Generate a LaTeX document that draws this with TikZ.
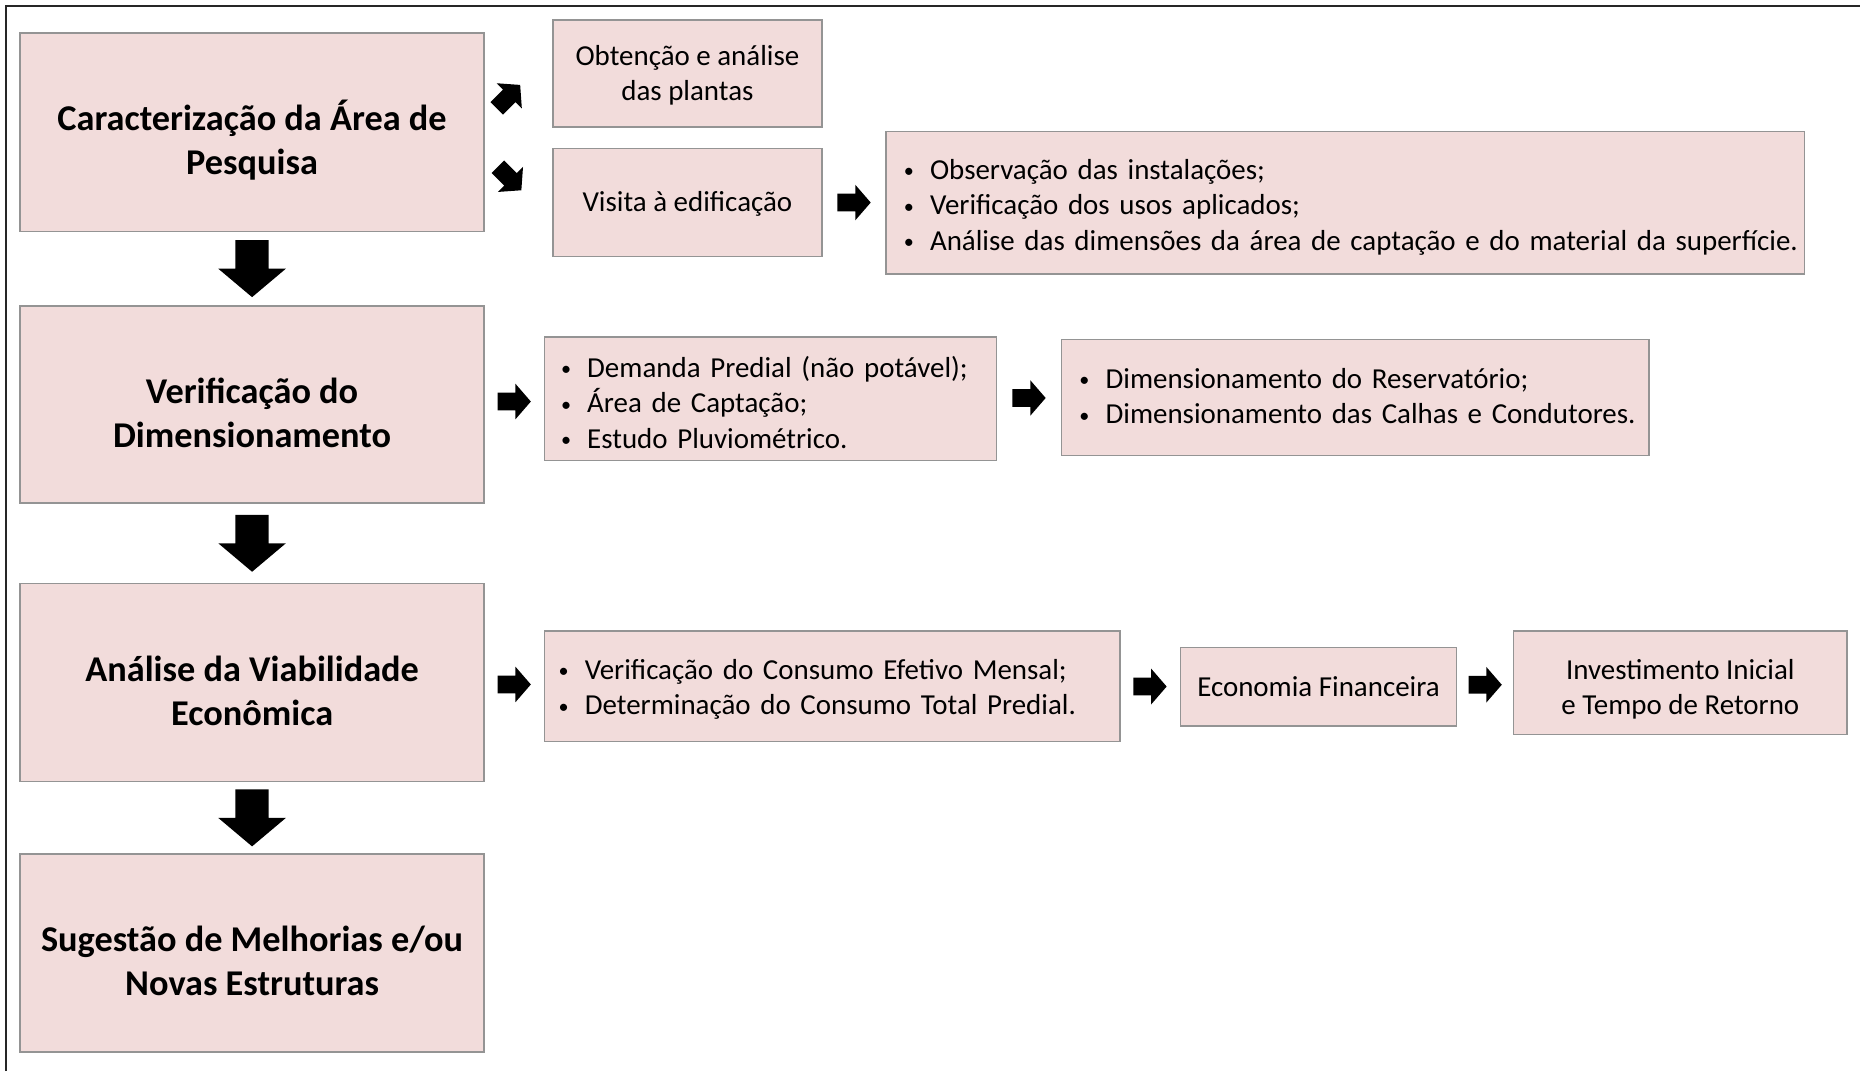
\documentclass[tikz,border=0pt]{standalone}
\usepackage{fontspec}
\setmainfont{Carlito}
\usetikzlibrary{calc}
\definecolor{boxfill}{HTML}{F2DCDB}
\definecolor{boxline}{HTML}{949494}
\newcommand\bitem[1]{\makebox[11pt][l]{\raisebox{0.6pt}{\fontsize{8.5}{8.5}\selectfont\textbullet}}#1}
\newcommand\lift[2]{\raisebox{-#1}[\height][\depth]{#2}}
\newcommand\ctab[1]{\begin{tabular}{@{}c@{}}#1\end{tabular}}
\newcommand\ltab[1]{\begin{tabular}{@{}l@{}}#1\end{tabular}}
\begin{document}
\begin{tikzpicture}[x=0.5pt,y=-0.5pt,
  box/.style={draw=boxline, fill=boxfill, line width=0.6pt, inner sep=0pt, align=center},
  big/.style={font=\fontsize{15.3}{18.5}\selectfont\bfseries},
  small/.style={font=\fontsize{12.2}{15}\selectfont},
  listbox/.style={box, small, align=left},
  rarr/.pic={\fill (-14,-7.5) -- (1,-7.5) -- (1,-15) -- (14,0) -- (1,15) -- (1,7.5) -- (-14,7.5) -- cycle;},
  darr/.pic={\fill (-14,-24) -- (14,-24) -- (14,0) -- (28.5,0) -- (0,24) -- (-28.5,0) -- (-14,0) -- cycle;}
]
\useasboundingbox (0,0) rectangle (1568,903);
% frame
\draw[line width=0.9pt, black!85] (5,903) -- (5,5) -- (1568,5);

% main column
\node[box, big, minimum width=195.5pt, minimum height=83.5pt] (A1) at (212.5,111.5) {\lift{5pt}{\ctab{Caracterização da Área de\\Pesquisa}}};
\node[box, big, minimum width=195.5pt, minimum height=83pt] (A2) at (212.5,341) {\lift{5pt}{\ctab{Verificação do\\Dimensionamento}}};
\node[box, big, minimum width=195.5pt, minimum height=83.5pt] (A3) at (212.5,575.5) {\lift{5pt}{\ctab{Análise da Viabilidade\\Econômica}}};
\node[box, big, minimum width=195.5pt, minimum height=83.5pt] (A4) at (212.5,803.5) {\lift{5pt}{\ctab{Sugestão de Melhorias e/ou\\Novas Estruturas}}};

% row 1
\node[box, small, minimum width=113.5pt, minimum height=45pt] (OB) at (579.5,62) {\lift{1pt}{\ctab{Obtenção e análise\\das plantas}}};
\node[box, small, minimum width=113.5pt, minimum height=45.5pt] (VI) at (579.5,170.5) {\lift{0.8pt}{Visita à edificação}};
\node[listbox, minimum width=387pt, minimum height=60pt, text width=372pt] (L1) at (1134,171)
  {\lift{2pt}{\ltab{\bitem{Observação das instalações;}\\\bitem{Verificação dos usos aplicados;}\\\bitem{Análise das dimensões da área de captação e do material da superfície.}}}};

% row 2
\node[listbox, minimum width=190.5pt, minimum height=52pt, text width=176.5pt] (B1) at (649.5,336)
  {\lift{3pt}{\ltab{\bitem{Demanda Predial (não potável);}\\\bitem{Área de Captação;}\\\bitem{Estudo Pluviométrico.}}}};
\node[listbox, minimum width=247.5pt, minimum height=49pt, text width=232.5pt] (B2) at (1142.5,335)
  {\lift{0.7pt}{\ltab{\bitem{Dimensionamento do Reservatório;}\\\bitem{Dimensionamento das Calhas e Condutores.}}}};

% row 3
\node[listbox, minimum width=242.5pt, minimum height=46.5pt, text width=230.5pt] (C1) at (701.5,578.5)
  {\lift{1.5pt}{\ltab{\bitem{Verificação do Consumo Efetivo Mensal;}\\\bitem{Determinação do Consumo Total Predial.}}}};
\node[box, small, minimum width=116.5pt, minimum height=33pt] (C2) at (1111.5,579) {Economia Financeira};
\node[box, small, minimum width=140.5pt, minimum height=43.5pt] (C3) at (1416.5,575.5) {\lift{3pt}{\ctab{Investimento Inicial\\e Tempo de Retorno}}};

% down arrows
\pic at ($(A1.south)!0.5!(A2.north)$) {darr};
\pic at ($(A2.south)!0.5!(A3.north)$) {darr};
\pic at ($(A3.south)!0.5!(A4.north)$) {darr};

% diagonal arrows
\pic[rotate=45] at ($(A1.east)+(20,-30)$) {rarr};
\pic[rotate=-45] at ($(A1.east)+(21,39)$) {rarr};

% right arrows
\pic at ($(VI.east)!0.5!(L1.west)$) {rarr};
\pic at ($(A2.east)!0.5!(B1.west)$) {rarr};
\pic at ($(B1.east)!0.5!(B2.west)$) {rarr};
\pic at ($(A3.east)!0.5!(C1.west)$) {rarr};
\pic at ($(C1.east)!0.5!(C2.west)$) {rarr};
\pic at ($(C2.east)!0.5!(C3.west)$) {rarr};
\end{tikzpicture}
\end{document}
